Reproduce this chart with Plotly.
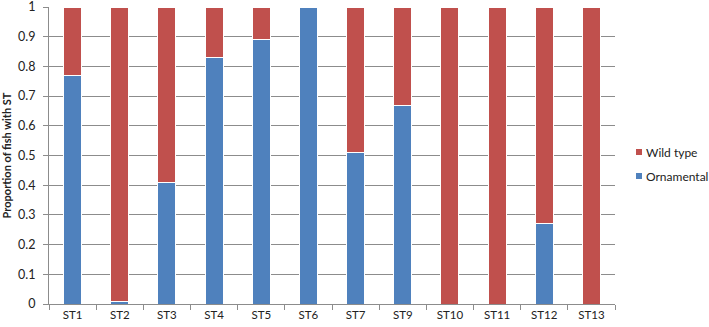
import plotly.graph_objects as go

categories = ["ST1", "ST2", "ST3", "ST4", "ST5", "ST6", "ST7", "ST9", "ST10", "ST11", "ST12", "ST13"]
ornamental = [0.77, 0.01, 0.41, 0.83, 0.89, 1.00, 0.51, 0.67, 0.00, 0.00, 0.27, 0.00]
wild_type = [0.23, 0.99, 0.59, 0.17, 0.11, 0.00, 0.49, 0.33, 1.00, 1.00, 0.73, 1.00]
y_ticks = [0, 0.1, 0.2, 0.3, 0.4, 0.5, 0.6, 0.7, 0.8, 0.9, 1]
y_tick_labels = ["0", "0.1", "0.2", "0.3", "0.4", "0.5", "0.6", "0.7", "0.8", "0.9", "1"]
series_names = ["Wild type", "Ornamental"]
series_colors = ["#C0504D", "#4F81BD"]

FONT = "Lato, Open Sans, sans-serif"
W, H = 709, 327
ML, MR, MT, MB = 49, 94, 7, 23
PW, PH = W - ML - MR, H - MT - MB

def px_x(x):
    return (x - ML) / PW

def px_y(y):
    return (H - MB - y) / PH

fig = go.Figure()
fig.add_trace(go.Bar(x=categories, y=ornamental, name="Ornamental", showlegend=False,
                     marker=dict(color="#4F81BD", line=dict(color="white", width=1))))
fig.add_trace(go.Bar(x=categories, y=wild_type, name="Wild type", showlegend=False,
                     marker=dict(color="#C0504D", line=dict(color="white", width=1))))

# Legend drawn as small squares + text (Excel style)
shapes = []
annotations = []
for i, (nm, col) in enumerate(zip(series_names, series_colors)):
    cy = 152 + i * 24
    shapes.append(dict(type="rect", xref="paper", yref="paper",
                       x0=px_x(636), x1=px_x(642), y0=px_y(cy + 3), y1=px_y(cy - 3),
                       fillcolor=col, line=dict(width=0)))
    annotations.append(dict(text=nm, xref="paper", yref="paper", x=px_x(644), y=px_y(cy),
                            xanchor="left", yanchor="middle", showarrow=False,
                            font=dict(size=12, color="#222222", family=FONT)))

fig.update_layout(
    width=W, height=H,
    margin=dict(l=ML, r=MR, t=MT, b=MB, autoexpand=False),
    barmode="stack",
    bargap=0.62,
    plot_bgcolor="white", paper_bgcolor="white",
    font=dict(family=FONT, size=11, color="#222222"),
    showlegend=False,
    shapes=shapes,
    annotations=annotations,
)
fig.update_xaxes(
    showline=True, linecolor="#8C8C8C", linewidth=1, automargin=False,
    ticks="outside", tickson="boundaries", ticklen=5, tickcolor="#8C8C8C",
    showgrid=False, tickfont=dict(size=11.5),
)
fig.update_yaxes(
    range=[0, 1], tickvals=y_ticks, ticktext=y_tick_labels, automargin=False,
    showline=True, linecolor="#8C8C8C", linewidth=1,
    ticks="outside", ticklen=5, tickcolor="#8C8C8C",
    showgrid=True, gridcolor="#8C8C8C", gridwidth=1,
    zeroline=False, tickfont=dict(size=12.5), ticklabelstandoff=5,
    ticklabeloverflow="allow",
    title=dict(text="<b>Proportion of fish with ST</b>", font=dict(size=11), standoff=4),
)

fig.write_html("out.html", config={"displayModeBar": False},
               post_script="document.body.style.margin='0';document.body.style.overflow='hidden';")
